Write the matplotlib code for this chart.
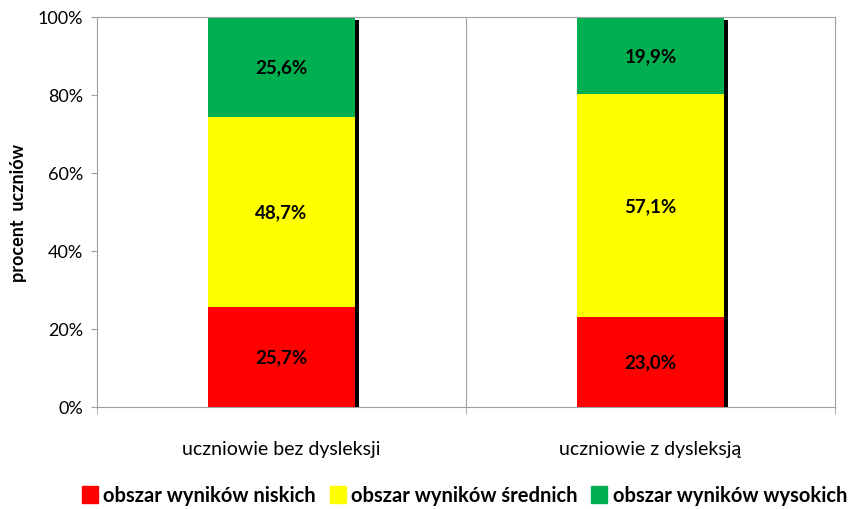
import numpy as np
import matplotlib.pyplot as plt
from matplotlib.patches import Patch

plt.rcParams['font.family'] = ['Lato', 'DejaVu Sans']

groups = ['uczniowie bez dysleksji', 'uczniowie z dysleksją']
series = ['obszar wyników niskich', 'obszar wyników średnich', 'obszar wyników wysokich']
low = [25.7, 23.0]
mid = [48.7, 57.1]
high = [25.6, 19.9]
colors = ['#ff0000', '#ffff00', '#00b050']

x = np.arange(len(groups))
width = 0.4

fig = plt.figure(figsize=(8.52, 5.10), dpi=100)
ax = fig.add_axes([0.114, 0.2, 0.866, 0.765])

totals = np.array(low) + np.array(mid) + np.array(high)
# black shadow on the right side of each bar
ax.bar(x + 0.011, totals - 0.8, width=width, color='black', zorder=1)

bottom = np.zeros(len(groups))
for vals, col in zip([low, mid, high], colors):
    bars = ax.bar(x, vals, width=width, bottom=bottom, color=col, zorder=2)
    for b, v, bt in zip(bars, vals, bottom):
        ax.text(b.get_x() + b.get_width() / 2, bt + v / 2,
                '{:.1f}%'.format(v).replace('.', ','),
                ha='center', va='center', fontsize=13.5, fontweight='bold', zorder=3)
    bottom = bottom + np.array(vals)

ax.set_xlim(-0.5, 1.5)
ax.set_ylim(0, 100)
ax.axvline(0.5, color='#a0a0a0', lw=0.8, zorder=0)

ax.set_yticks(np.arange(0, 101, 20))
ax.set_yticklabels(['{}%'.format(v) for v in range(0, 101, 20)], fontsize=13)
ax.set_xticks(x)
ax.set_xticklabels(groups, fontsize=14)
ax.tick_params(axis='x', length=0, pad=24)
ax.set_xticks([-0.5, 0.5, 1.5], minor=True)
ax.tick_params(axis='x', which='minor', length=5, color='#a0a0a0')
ax.tick_params(axis='y', length=4, color='#a0a0a0', pad=6)

for s in ax.spines.values():
    s.set_color('#a0a0a0')
    s.set_linewidth(0.8)

ax.set_ylabel('procent  uczniów', fontsize=13, fontweight='bold', labelpad=8)

handles = [Patch(color=c) for c in colors]
fig.legend(handles, series, loc='lower center', bbox_to_anchor=(0.545, -0.028), ncol=3,
           frameon=False, handlelength=0.8, handleheight=0.9, handletextpad=0.25,
           columnspacing=0.7, prop={'size': 14.5, 'weight': 'bold'})

fig.savefig('out.png', dpi=100)
